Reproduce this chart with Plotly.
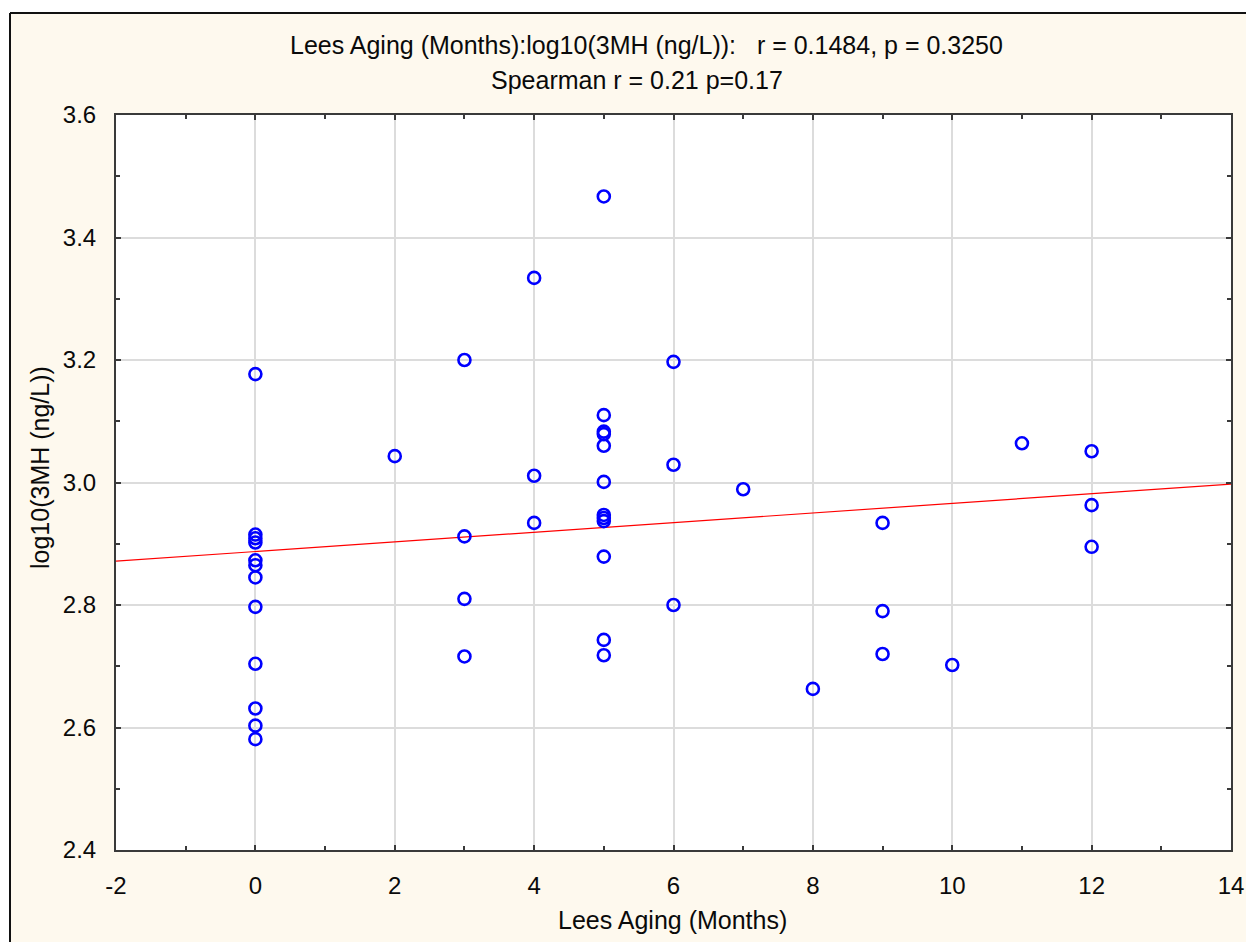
import numpy as np
import plotly.graph_objects as go

# Lees aging time (months) per wine and log10 of 3MH concentration (ng/L)
lees_months = [
    0, 0, 0, 0, 0, 0, 0, 0, 0, 0, 0, 0,
    2,
    3, 3, 3, 3,
    4, 4, 4,
    5, 5, 5, 5, 5, 5, 5, 5, 5, 5, 5, 5,
    6, 6, 6,
    7,
    8,
    9, 9, 9,
    10,
    11,
    12, 12, 12,
]
log_3mh = [
    3.177, 2.915, 2.909, 2.902, 2.873, 2.865, 2.845, 2.797, 2.704, 2.631, 2.603, 2.581,
    3.043,
    3.200, 2.912, 2.810, 2.716,
    3.334, 3.011, 2.934,
    3.467, 3.110, 3.083, 3.079, 3.060, 3.001, 2.947, 2.942, 2.937, 2.879, 2.743, 2.718,
    3.197, 3.029, 2.800,
    2.989,
    2.663,
    2.934, 2.790, 2.720,
    2.702,
    3.064,
    3.051, 2.963, 2.895,
]

x_tick_vals = [-2, 0, 2, 4, 6, 8, 10, 12, 14]
x_tick_text = ["-2", "0", "2", "4", "6", "8", "10", "12", "14"]
y_tick_vals = [2.4, 2.6, 2.8, 3.0, 3.2, 3.4, 3.6]
y_tick_text = ["2.4", "2.6", "2.8", "3.0", "3.2", "3.4", "3.6"]
x_range = [-2, 14]
y_range = [2.4, 3.6]
title_line1 = "Lees Aging (Months):log10(3MH (ng/L)):\u00a0\u00a0 r = 0.1484, p = 0.3250"
title_line2 = "Spearman r = 0.21 p=0.17"
x_title = "Lees Aging (Months)"
y_title = "log10(3MH (ng/L))"

# least-squares fit drawn across the full x range
slope, intercept = np.polyfit(lees_months, log_3mh, 1)
fit_x = np.array(x_range, dtype=float)
fit_y = intercept + slope * fit_x

FONT = "Liberation Sans, Arial, sans-serif"
CREAM = "#FEF9EE"
FRAME = "#3a3a3a"
INK = "#0a0a0a"

W, H = 1246, 942
ML, MR, MT, MB = 116, 15, 115, 92
PW, PH = W - ML - MR, H - MT - MB


def px(xp):
    return (xp - ML) / PW


def py(yp):
    return (H - MB - yp) / PH


fig = go.Figure()
fig.add_trace(go.Scatter(
    x=fit_x, y=fit_y, mode="lines",
    line=dict(color="#FF0000", width=1.2),
    hoverinfo="skip", showlegend=False,
))
fig.add_trace(go.Scatter(
    x=lees_months, y=log_3mh, mode="markers",
    marker=dict(symbol="circle-open", size=12, color="#0000FF",
                line=dict(color="#0000FF", width=2.6)),
    showlegend=False,
))

axis_common = dict(
    showgrid=True, gridcolor="#DCDCDC", gridwidth=1.5,
    zeroline=False, automargin=False,
    showline=True, linecolor=FRAME, linewidth=2, mirror="ticks",
    ticks="inside", ticklen=5, tickwidth=1.5, tickcolor=FRAME,
    tickfont=dict(family=FONT, size=24, color=INK),
)

fig.update_xaxes(
    range=x_range, tickmode="array", tickvals=x_tick_vals, ticktext=x_tick_text,
    minor=dict(dtick=1, tick0=-2, ticks="inside", ticklen=4, tickwidth=1.5,
               tickcolor=FRAME, showgrid=False),
    ticklabelstandoff=13,
    **axis_common,
)
fig.update_yaxes(
    range=y_range, tickmode="array", tickvals=y_tick_vals, ticktext=y_tick_text,
    minor=dict(dtick=0.1, tick0=2.4, ticks="inside", ticklen=4, tickwidth=1.5,
               tickcolor=FRAME, showgrid=False),
    ticklabelstandoff=13,
    **axis_common,
)

shapes = [
    # white surround outside the cream panel (top strip and left strip)
    dict(type="rect", xref="paper", yref="paper", x0=-0.3, x1=1.3,
         y0=py(13), y1=py(-60), fillcolor="white", line=dict(width=0), layer="below"),
    dict(type="rect", xref="paper", yref="paper", x0=-0.3, x1=px(10),
         y0=py(1100), y1=py(-60), fillcolor="white", line=dict(width=0), layer="below"),
    # panel border on the top and left edges
    dict(type="line", xref="paper", yref="paper", x0=px(10), x1=1.3,
         y0=py(13), y1=py(13), line=dict(color="#111111", width=2)),
    dict(type="line", xref="paper", yref="paper", x0=px(10), x1=px(10),
         y0=py(13), y1=py(1100), line=dict(color="#111111", width=2)),
]

annotations = [
    dict(text=title_line1, xref="paper", yref="paper", x=px(646), y=py(45),
         xanchor="center", yanchor="middle", showarrow=False,
         font=dict(family=FONT, size=25, color=INK)),
    dict(text=title_line2, xref="paper", yref="paper", x=px(637), y=py(80),
         xanchor="center", yanchor="middle", showarrow=False,
         font=dict(family=FONT, size=25, color=INK)),
    dict(text=x_title, xref="paper", yref="paper", x=px(672), y=py(920),
         xanchor="center", yanchor="middle", showarrow=False,
         font=dict(family=FONT, size=25, color=INK)),
    dict(text=y_title, xref="paper", yref="paper", x=px(40), y=py(468),
         xanchor="center", yanchor="middle", showarrow=False, textangle=-90,
         font=dict(family=FONT, size=25, color=INK)),
]

fig.update_layout(
    width=W, height=H,
    margin=dict(l=ML, r=MR, t=MT, b=MB, pad=0, autoexpand=False),
    paper_bgcolor=CREAM, plot_bgcolor="white",
    shapes=shapes, annotations=annotations,
    showlegend=False,
)

fig.write_html("out.html", include_plotlyjs=True, full_html=True,
               config={"displayModeBar": False})
